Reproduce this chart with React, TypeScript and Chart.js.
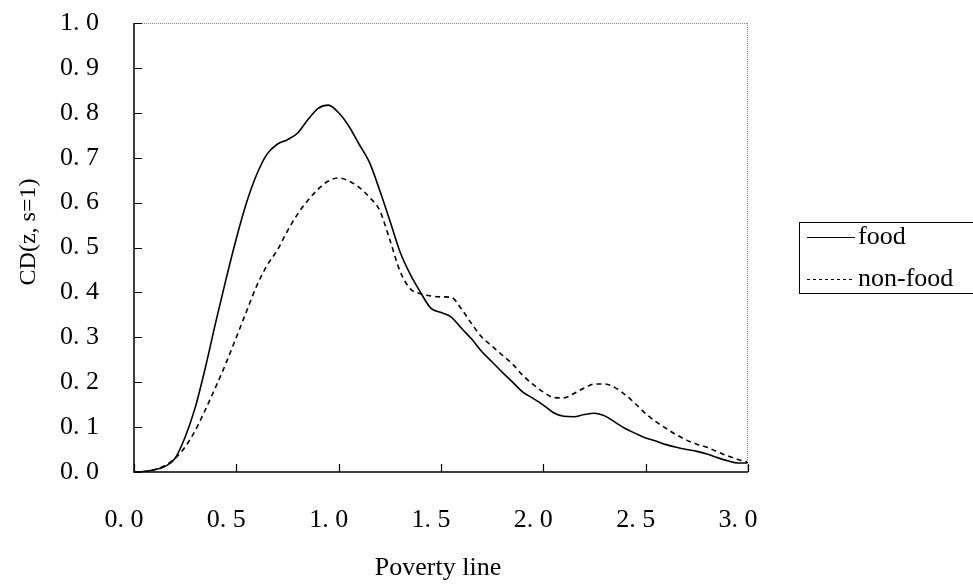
import { useEffect, useRef } from "react";
import { Chart, registerables } from "chart.js";

Chart.register(...registerables);

const povertyLine = [
  0, 0.05, 0.1, 0.15, 0.2, 0.25, 0.3, 0.35, 0.4, 0.45,
  0.5, 0.55, 0.6, 0.65, 0.7, 0.75, 0.8, 0.85, 0.9, 0.95,
  1.0, 1.05, 1.1, 1.15, 1.2, 1.25, 1.3, 1.35, 1.4, 1.45,
  1.5, 1.55, 1.6, 1.65, 1.7, 1.75, 1.8, 1.85, 1.9, 1.95,
  2.0, 2.05, 2.1, 2.15, 2.2, 2.25, 2.3, 2.35, 2.4, 2.45,
  2.5, 2.55, 2.6, 2.65, 2.7, 2.75, 2.8, 2.85, 2.9, 2.95,
  3.0,
];

const food = [
  0, 0.001, 0.005, 0.012, 0.03, 0.078, 0.145, 0.235, 0.335, 0.43,
  0.52, 0.6, 0.663, 0.708, 0.73, 0.74, 0.755, 0.785, 0.81, 0.817,
  0.8, 0.77, 0.73, 0.69, 0.628, 0.56, 0.49, 0.44, 0.4, 0.365,
  0.355, 0.345, 0.32, 0.296, 0.268, 0.245, 0.222, 0.2, 0.178, 0.164,
  0.149, 0.132, 0.124, 0.123, 0.128, 0.131, 0.125, 0.111, 0.097, 0.086,
  0.076, 0.069, 0.061, 0.055, 0.05, 0.046, 0.04, 0.032, 0.025, 0.02,
  0.02,
];

const nonFood = [
  0, 0.001, 0.005, 0.014, 0.03, 0.056, 0.093, 0.14, 0.19, 0.243,
  0.3, 0.358, 0.415, 0.46, 0.494, 0.537, 0.575, 0.605, 0.63, 0.648,
  0.655, 0.648, 0.634, 0.612, 0.583, 0.517, 0.447, 0.408, 0.397, 0.392,
  0.39, 0.389, 0.363, 0.33, 0.3, 0.28, 0.26, 0.24, 0.215, 0.195,
  0.178, 0.166, 0.165, 0.175, 0.187, 0.196, 0.196, 0.188, 0.172, 0.152,
  0.13, 0.112, 0.097, 0.083, 0.071, 0.062, 0.055, 0.045, 0.036, 0.028,
  0.022,
];

const seriesLabels = ["food", "non-food"];
const xTickLabels = ["0. 0", "0. 5", "1. 0", "1. 5", "2. 0", "2. 5", "3. 0"];
const yTickLabels = ["0. 0", "0. 1", "0. 2", "0. 3", "0. 4", "0. 5", "0. 6", "0. 7", "0. 8", "0. 9", "1. 0"];
const xTitle = "Poverty line";
const yTitle = "CD(z, s=1)";

const FONT = "'Liberation Serif', 'Times New Roman', serif";

const framePlugin = {
  id: "frame",
  afterDatasetsDraw(chart: any) {
    const { ctx, chartArea, scales } = chart;
    const { left, right, top, bottom } = chartArea;
    ctx.save();
    // dotted top and right border
    ctx.strokeStyle = "#8a8a8a";
    ctx.lineWidth = 1;
    ctx.setLineDash([1, 1]);
    ctx.beginPath();
    ctx.moveTo(left, top + 0.5);
    ctx.lineTo(right, top + 0.5);
    ctx.moveTo(right - 0.5, top);
    ctx.lineTo(right - 0.5, bottom);
    ctx.stroke();
    // solid axes
    ctx.setLineDash([]);
    ctx.strokeStyle = "#000";
    ctx.lineWidth = 1.5;
    ctx.beginPath();
    ctx.moveTo(left, top);
    ctx.lineTo(left, bottom);
    ctx.lineTo(right, bottom);
    ctx.stroke();
    // inward ticks
    ctx.lineWidth = 1.2;
    ctx.beginPath();
    scales.x.ticks.forEach((t: any) => {
      const px = Math.round(scales.x.getPixelForValue(t.value)) + 0.5;
      ctx.moveTo(px, bottom);
      ctx.lineTo(px, bottom - 8);
    });
    scales.y.ticks.forEach((t: any) => {
      const py = Math.round(scales.y.getPixelForValue(t.value)) + 0.5;
      ctx.moveTo(left, py);
      ctx.lineTo(left + 8, py);
    });
    ctx.stroke();
    ctx.restore();
  },
  afterDraw(chart: any) {
    const { ctx } = chart;
    ctx.save();
    ctx.fillStyle = "#000";
    // axis titles
    ctx.font = `26px ${FONT}`;
    ctx.textAlign = "center";
    ctx.textBaseline = "alphabetic";
    ctx.fillText(xTitle, 438, 575);
    ctx.save();
    ctx.translate(35, 232);
    ctx.rotate(-Math.PI / 2);
    ctx.font = `24px ${FONT}`;
    ctx.fillText(yTitle, 0, 0);
    ctx.restore();
    // legend
    const boxL = 799.5, boxT = 222.5, boxR = 990, boxB = 293.5;
    ctx.strokeStyle = "#000";
    ctx.lineWidth = 1;
    ctx.strokeRect(boxL, boxT, boxR - boxL, boxB - boxT);
    const rows = [237, 279];
    chart.data.datasets.forEach((ds: any, i: number) => {
      const y = rows[i] + 0.5;
      ctx.beginPath();
      ctx.setLineDash(i === 0 ? [] : [3, 3]);
      ctx.lineWidth = 1;
      ctx.moveTo(807, y);
      ctx.lineTo(855, y);
      ctx.stroke();
      ctx.setLineDash([]);
      ctx.font = `26px ${FONT}`;
      ctx.textAlign = "left";
      ctx.textBaseline = "middle";
      ctx.fillText(ds.label, 858, rows[i]);
    });
    ctx.restore();
  },
};

export default function App() {
  const ref = useRef<HTMLCanvasElement | null>(null);

  useEffect(() => {
    document.body.style.margin = "0";
    const canvas = ref.current;
    if (!canvas) return;
    const chart = new Chart(canvas, {
      type: "line",
      data: {
        datasets: [
          {
            label: seriesLabels[0],
            data: povertyLine.map((x, i) => ({ x, y: food[i] })),
            borderColor: "#000",
            borderWidth: 1.6,
            pointRadius: 0,
            cubicInterpolationMode: "monotone",
            fill: false,
          },
          {
            label: seriesLabels[1],
            data: povertyLine.map((x, i) => ({ x, y: nonFood[i] })),
            borderColor: "#000",
            borderWidth: 1.6,
            borderDash: [5, 4],
            pointRadius: 0,
            cubicInterpolationMode: "monotone",
            fill: false,
          },
        ],
      },
      options: {
        animation: false,
        responsive: false,
        devicePixelRatio: 1,
        layout: { padding: { left: 0, top: 23, right: 225, bottom: 0 } },
        plugins: {
          legend: { display: false },
          tooltip: { enabled: false },
          title: { display: false },
        },
        scales: {
          x: {
            type: "linear",
            min: 0,
            max: 3,
            grid: { display: false, drawTicks: false },
            border: { display: false },
            ticks: {
              stepSize: 0.5,
              padding: 33,
              labelOffset: -10,
              maxRotation: 0,
              color: "#000",
              font: { family: FONT, size: 26 },
              callback: (_v: any, i: number) => xTickLabels[i],
            },
            afterFit: (s: any) => {
              s.height = 112;
              s.paddingLeft = 0;
              s.paddingRight = 0;
            },
          },
          y: {
            type: "linear",
            min: 0,
            max: 1,
            grid: { display: false, drawTicks: false },
            border: { display: false },
            ticks: {
              stepSize: 0.1,
              padding: 35,
              color: "#000",
              font: { family: FONT, size: 26 },
              callback: (_v: any, i: number) => yTickLabels[i],
            },
            afterFit: (s: any) => {
              s.width = 134;
              s.paddingTop = 0;
              s.paddingBottom = 0;
            },
          },
        },
      },
      plugins: [framePlugin],
    });
    return () => chart.destroy();
  }, []);

  return (
    <div style={{ width: 973, height: 584, background: "#fff" }}>
      <canvas ref={ref} width={973} height={584} style={{ display: "block" }} />
    </div>
  );
}
